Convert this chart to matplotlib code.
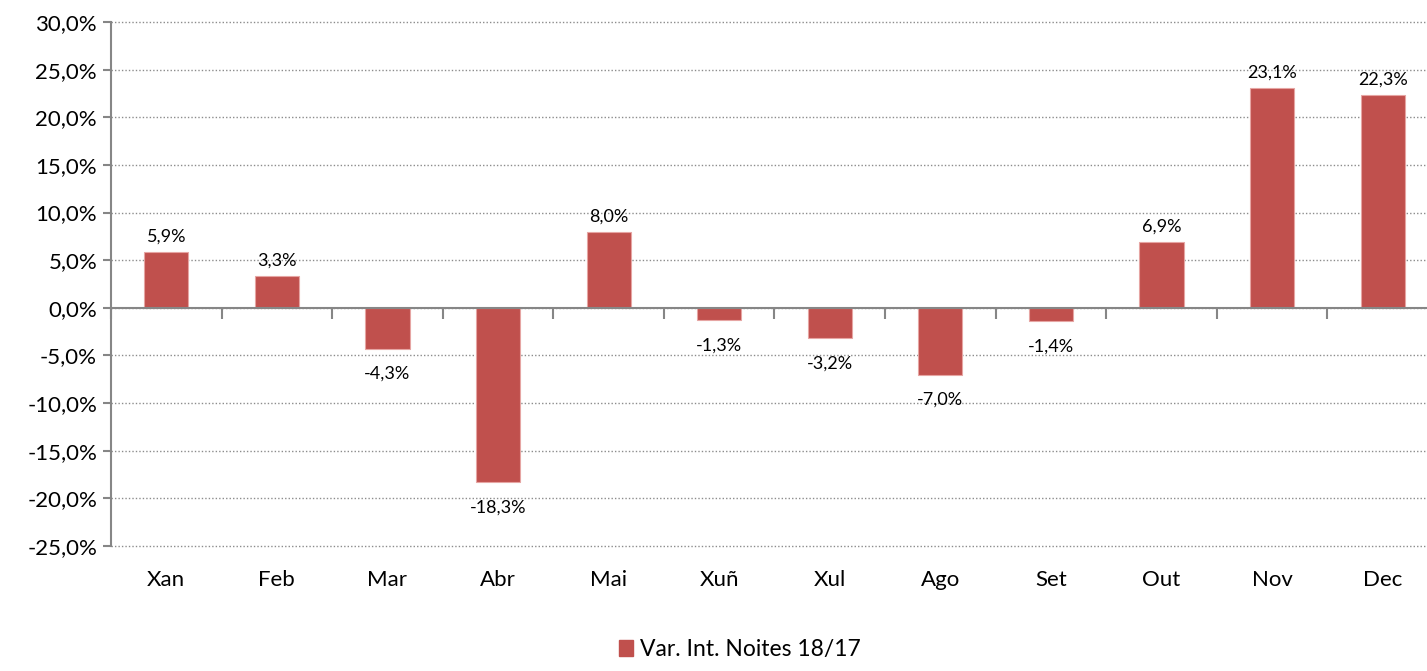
import numpy as np
from matplotlib import pyplot as plt
from matplotlib.patches import Patch

plt.rcParams['font.family'] = ['Lato', 'DejaVu Sans']

meses = ['Xan', 'Feb', 'Mar', 'Abr', 'Mai', 'Xuñ', 'Xul', 'Ago', 'Set', 'Out', 'Nov', 'Dec']
variacion = [5.9, 3.3, -4.3, -18.3, 8.0, -1.3, -3.2, -7.0, -1.4, 6.9, 23.1, 22.3]
serie = 'Var. Int. Noites 18/17'

cor_barra = '#C0504D'
cor_eixo = '#868686'

fig = plt.figure(figsize=(14.27, 6.71), dpi=100)
ax = fig.add_axes([111 / 1427, 125 / 671, 1327 / 1427, 524 / 671])

x = np.arange(len(meses))
ax.bar(x, variacion, width=0.4, color=cor_barra, edgecolor='#E6A5A3', linewidth=0.8, zorder=3)

ax.set_xlim(-0.5, len(meses) - 0.5)
ax.set_ylim(-25, 30)
ax.set_yticks(np.arange(-25, 31, 5))
ax.set_yticklabels([f'{v:.1f}%'.replace('.', ',') for v in np.arange(-25, 31, 5)], fontsize=16)
ax.yaxis.grid(True, linestyle=(0, (1, 1.5)), color='#8c8c8c', linewidth=1.0, zorder=0)
for linea in ax.get_ygridlines():
    linea.set_clip_on(False)

for s in ['top', 'right']:
    ax.spines[s].set_visible(False)
ax.spines['left'].set_color(cor_eixo)
ax.spines['left'].set_linewidth(1.5)
ax.spines['bottom'].set_position(('data', 0))
ax.spines['bottom'].set_color(cor_eixo)
ax.spines['bottom'].set_linewidth(1.5)
ax.spines['bottom'].set_zorder(4)

ax.tick_params(axis='y', length=6, width=1.5, color=cor_eixo, pad=4)
ax.set_xticks(np.arange(-0.5, len(meses), 1))
ax.tick_params(axis='x', length=8, width=1.5, color=cor_eixo, labelbottom=False)

for i, m in enumerate(meses):
    ax.text(i, -0.065, m, transform=ax.get_xaxis_transform(), ha='center', va='center', fontsize=16)

for i, v in enumerate(variacion):
    txt = f'{v:.1f}%'.replace('.', ',')
    if v >= 0:
        ax.annotate(txt, (i, v), xytext=(0, 11), textcoords='offset points', ha='center', va='center', fontsize=13)
    else:
        ax.annotate(txt, (i, v), xytext=(0, -18), textcoords='offset points', ha='center', va='center', fontsize=13)

fig.legend(handles=[Patch(color=cor_barra, label=serie)], loc='lower center', bbox_to_anchor=(740 / 1427, -0.015),
           frameon=False, fontsize=16.5, handlelength=0.6, handleheight=0.7, handletextpad=0.3)

fig.savefig('out.png', dpi=100)
